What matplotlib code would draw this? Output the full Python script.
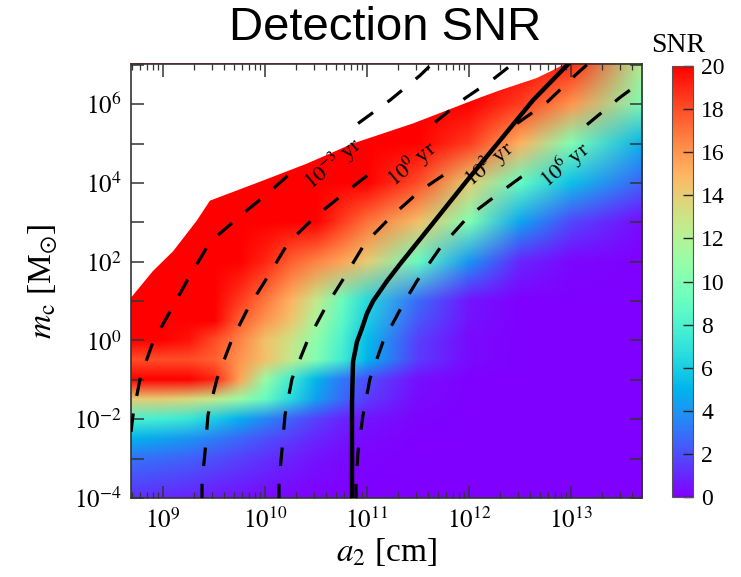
import numpy as np
import matplotlib
matplotlib.use("Agg")
import matplotlib.pyplot as plt
from matplotlib.image import NonUniformImage
from matplotlib.ticker import FixedLocator, FuncFormatter, LogLocator, NullFormatter

plt.rcParams['font.family'] = ['Liberation Serif', 'DejaVu Serif']
plt.rcParams['mathtext.fontset'] = 'stix'

# ---- SNR map sampled on a (log10 a2, log10 m_c) grid ----
log_a = np.array([8.68, 9.0, 9.25, 9.5, 9.75, 10.0, 10.25, 10.5, 10.75, 11.0,
                  11.5, 12.0, 12.5, 13.0, 13.71])
log_m = np.array([-4.05, -3, -2.5, -2, -1.5, -1, -0.5, 0, 0.5, 1, 2, 3, 4, 5, 6, 7.05])
snr_rows = [
    [1.2, 1.0, 0.8, 0.6, 0.4, 0.2, 0.1, 0, 0, 0, 0, 0, 0, 0, 0],
    [3.0, 2.8, 2.5, 2.1, 1.7, 1.3, 0.9, 0.5, 0.3, 0.1, 0, 0, 0, 0, 0],
    [5.0, 4.5, 4.0, 3.3, 2.7, 2.1, 1.5, 1.0, 0.6, 0.3, 0, 0, 0, 0, 0],
    [8.0, 7.7, 7.2, 6.0, 4.8, 3.6, 2.5, 1.7, 1.0, 0.6, 0.1, 0, 0, 0, 0],
    [14.0, 14.0, 13.5, 12.5, 11.0, 9.0, 6.5, 4.3, 2.8, 1.5, 0.3, 0, 0, 0, 0],
    [21, 21, 20.5, 19, 15.5, 11, 7.5, 5.0, 3.2, 2.0, 0.4, 0, 0, 0, 0],
    [18, 18, 18, 17.5, 16, 14.5, 12.5, 10, 7.5, 5, 1.5, 0.3, 0, 0, 0],
    [20, 20, 19.5, 18, 16.5, 14.5, 13, 10.5, 8, 5.3, 1.6, 0.3, 0, 0, 0],
    [22, 22, 21.5, 20, 17.5, 16, 14.3, 11.6, 8.6, 6, 2.2, 0.5, 0, 0, 0],
    [25, 25, 25, 21, 18.5, 16.8, 15, 12.7, 9.2, 6.5, 2.8, 0.6, 0, 0, 0],
    [25, 25, 25, 25, 22, 19, 17.5, 16.5, 15.5, 14, 9, 4, 1, 0.2, 0],
    [25, 25, 25, 25, 25, 22, 21, 20, 18.5, 17, 14.5, 10, 4.5, 1.8, 0.3],
    [25, 25, 25, 25, 25, 25, 25, 25, 25, 21, 18, 14, 9, 5.5, 2.5],
    [25, 25, 25, 25, 25, 25, 25, 25, 25, 25, 21, 18.5, 15, 10, 4.8],
    [25, 25, 25, 25, 25, 25, 25, 25, 25, 25, 25, 21, 18.5, 16, 9.8],
    [25, 25, 25, 25, 25, 25, 25, 25, 25, 25, 25, 25, 25, 19, 12],
]
snr = np.array(snr_rows)

# ---- edge of the computed domain (no data above it) ----
edge_la = np.array([8.60, 8.69, 8.90, 9.10, 9.33, 9.46, 9.98, 10.41, 10.86, 11.45,
                    12.11, 12.30, 12.66, 12.82, 12.96, 12.98])
edge_lm = np.array([1.10, 1.10, 1.76, 2.27, 3.04, 3.55, 4.06, 4.49, 5.00, 5.51,
                    6.17, 6.35, 6.66, 6.86, 7.05, 7.20])

# ---- merger-time curves (log10 a2, log10 m_c); nan = label gap ----
t_labels = [r"$10^{-3}$ yr", r"$10^{0}$ yr", r"$10^{3}$ yr", r"$10^{6}$ yr"]
t1_la = [8.686, 8.706, 8.775, 8.902, 9.088, 9.245, 9.461, 9.755, 10.02, 10.314, np.nan,
         10.912, 11.225, 11.52, 11.676]
t1_lm = [-2.32, -1.89, -0.97, -0.03, 0.82, 1.56, 2.50, 3.16, 3.72, 4.39, np.nan,
         5.51, 6.10, 6.73, 7.12]
t2_la = [9.382, 9.382, 9.412, 9.441, 9.529, 9.667, 9.833, 10.029, 10.225, 10.49, 10.784,
         11.078, np.nan, 11.667, 11.961, 12.235, 12.451]
t2_lm = [-4.11, -3.60, -2.83, -1.89, -0.97, -0.03, 0.82, 1.63, 2.47, 3.14, 3.75,
         4.34, np.nan, 5.54, 6.15, 6.63, 7.07]
t3_la = [10.137, 10.137, 10.167, 10.196, 10.265, 10.412, 10.588, 10.784, 10.98, 11.235,
         11.52, 11.814, np.nan, 12.471, 12.765, 13.039, 13.186]
t3_lm = [-4.11, -3.60, -2.76, -1.89, -0.97, -0.03, 0.82, 1.63, 2.47, 3.14,
         3.80, 4.31, np.nan, 5.51, 6.05, 6.73, 7.07]
t4_la = [10.892, 10.892, 10.912, 10.961, 11.029, 11.157, 11.353, 11.49, 11.716, 11.99,
         12.275, 12.569, np.nan, 13.157, 13.48, 13.735]
t4_lm = [-4.11, -3.60, -2.83, -1.89, -0.97, -0.03, 0.92, 1.51, 2.35, 3.14,
         3.70, 4.26, np.nan, 5.48, 6.17, 6.66]
label_la = [10.67, 11.44, 12.20, 12.94]
label_lm = [4.48, 4.48, 4.48, 4.45]

# ---- detectability boundary (solid) ----
det_la = [10.853, 10.853, 10.863, 10.902, 10.951, 11.0, 11.059, 11.196, 11.324,
          11.647, 11.98, 12.304, 12.627, 13.01]
det_lm = [-4.11, -1.56, -0.54, -0.03, 0.31, 0.69, 1.0, 1.51, 1.94,
          2.98, 4.06, 5.08, 6.10, 7.12]

XLIM_EXP = (8.686, 13.696)
YLIM_EXP = (-4.0, 7.02)
rect = [0.1768, 0.1369, 0.6896, 0.7522]

fig = plt.figure(figsize=(7.41, 5.77), dpi=100)

# background map drawn in exponent space, bilinear between samples
ax_img = fig.add_axes(rect, zorder=0)
img = NonUniformImage(ax_img, interpolation='bilinear', cmap='rainbow',
                      extent=(log_a[0], log_a[-1], log_m[0], log_m[-1]))
img.set_clim(0, 20)
img.set_data(log_a, log_m, snr)
ax_img.add_image(img)
ax_img.set_xlim(*XLIM_EXP)
ax_img.set_ylim(*YLIM_EXP)
ax_img.axis('off')

ax = fig.add_axes(rect, zorder=1)
ax.set_facecolor('none')
ax.set_xscale('log')
ax.set_yscale('log')
ax.set_xlim(10 ** XLIM_EXP[0], 10 ** XLIM_EXP[1])
ax.set_ylim(10 ** YLIM_EXP[0], 10 ** YLIM_EXP[1])

ax.fill(np.r_[10 ** edge_la, 10 ** 8.60], np.r_[10 ** edge_lm, 10 ** 7.20],
        color='white', lw=0, zorder=1.5)

dash = (0, (5.8, 5.6))
for la, lm in [(t1_la, t1_lm), (t2_la, t2_lm), (t3_la, t3_lm), (t4_la, t4_lm)]:
    ax.plot(10 ** np.array(la), 10 ** np.array(lm), color='black', lw=2.3,
            linestyle=dash, zorder=3)
for txt, la, lm in zip(t_labels, label_la, label_lm):
    ax.text(10 ** la, 10 ** lm, txt, fontsize=16, rotation=40,
            ha='center', va='center', rotation_mode='anchor', zorder=4)

ax.plot(10 ** np.array(det_la), 10 ** np.array(det_lm), color='black', lw=3.2,
        solid_capstyle='butt', zorder=3)

ax.xaxis.set_major_locator(FixedLocator([1e9, 1e10, 1e11, 1e12, 1e13]))
ax.xaxis.set_minor_locator(LogLocator(base=10, subs=np.arange(2, 10), numticks=20))
ax.xaxis.set_minor_formatter(NullFormatter())
ax.xaxis.set_major_formatter(FuncFormatter(lambda v, p: r"$10^{%d}$" % round(np.log10(v))))

ydecades = [10.0 ** k for k in range(-4, 8)]
ax.yaxis.set_major_locator(FixedLocator(ydecades))
ax.yaxis.set_minor_locator(FixedLocator([]))


def ylab(v, p):
    k = int(round(np.log10(v)))
    return r"$10^{%d}$" % k if k % 2 == 0 else ""


ax.yaxis.set_major_formatter(FuncFormatter(ylab))

ax.tick_params(which='both', direction='in', top=True, right=True,
               color='#333333', labelsize=18)
ax.tick_params(which='major', length=9, width=1.1, pad=7)
ax.tick_params(which='minor', length=4.5, width=0.9)
for s in ax.spines.values():
    s.set_color('#333333')
    s.set_linewidth(1.2)

ax.set_xlabel(r"$a_2$ [cm]", fontsize=24, labelpad=2)
ax.set_ylabel(r"$m_{\rm c}$ [M$_{\odot}$]", fontsize=24, labelpad=10)

fig.text(385 / 741, 1 - 28 / 577, "Detection SNR", fontsize=34,
         family='Liberation Sans', ha='center', va='center')

cax = fig.add_axes([0.9069, 0.1386, 0.0283, 0.747])
cb = fig.colorbar(img, cax=cax, ticks=np.arange(0, 21, 2))
cax.tick_params(direction='in', length=7, width=1, labelsize=17, right=True,
                left=False, color='#222222', pad=6)
cb.outline.set_linewidth(0.8)
cb.outline.set_edgecolor('#555555')
fig.text(678 / 741, 1 - 46 / 577, "SNR", fontsize=20, ha='center', va='center')

fig.savefig("out.png", dpi=100)
